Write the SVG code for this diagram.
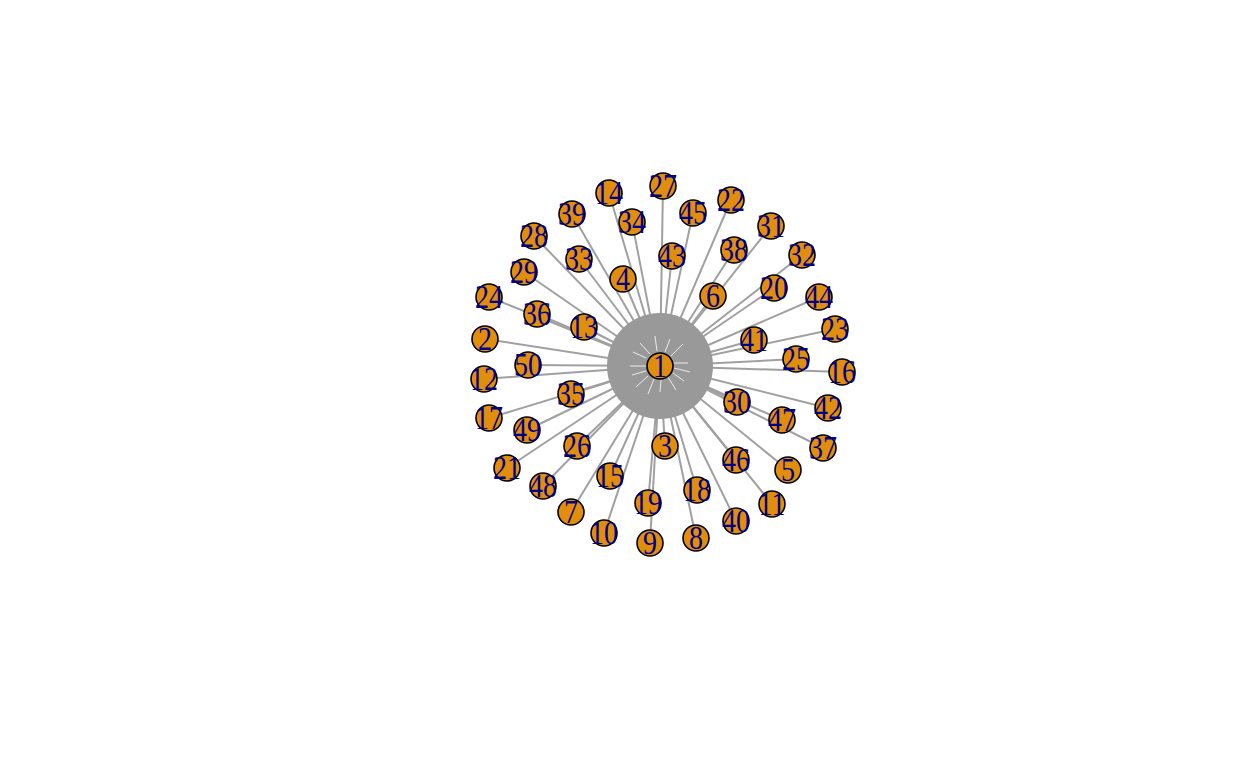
<svg xmlns="http://www.w3.org/2000/svg" width="1248" height="768" viewBox="0 0 1248 768">
<style>
.e{stroke:#a0a0a0;stroke-width:2;fill:none}
.w{stroke:#ffffff;stroke-width:0.8;fill:none}
.n circle{fill:#E08E0B;stroke:#000;stroke-width:1.6}
.n text{font-family:"Liberation Serif","Times New Roman",serif;font-size:28px;fill:#00008B;text-anchor:middle;transform:scale(1,1.2)}
</style>
<rect width="1248" height="768" fill="#fff"/>
<g id="edges">
<line class="e" x1="660" y1="366" x2="663" y2="186"/>
<line class="e" x1="660" y1="366" x2="609" y2="193"/>
<line class="e" x1="660" y1="366" x2="731" y2="200"/>
<line class="e" x1="660" y1="366" x2="693" y2="213"/>
<line class="e" x1="660" y1="366" x2="572" y2="214"/>
<line class="e" x1="660" y1="366" x2="632" y2="222"/>
<line class="e" x1="660" y1="366" x2="771" y2="226"/>
<line class="e" x1="660" y1="366" x2="534" y2="236"/>
<line class="e" x1="660" y1="366" x2="734" y2="250"/>
<line class="e" x1="660" y1="366" x2="672" y2="256"/>
<line class="e" x1="660" y1="366" x2="579" y2="259"/>
<line class="e" x1="660" y1="366" x2="802" y2="255"/>
<line class="e" x1="660" y1="366" x2="524" y2="272"/>
<line class="e" x1="660" y1="366" x2="623" y2="279"/>
<line class="e" x1="660" y1="366" x2="774" y2="288"/>
<line class="e" x1="660" y1="366" x2="713" y2="296"/>
<line class="e" x1="660" y1="366" x2="819" y2="297"/>
<line class="e" x1="660" y1="366" x2="489" y2="297"/>
<line class="e" x1="660" y1="366" x2="537" y2="314"/>
<line class="e" x1="660" y1="366" x2="584" y2="327"/>
<line class="e" x1="660" y1="366" x2="835" y2="329"/>
<line class="e" x1="660" y1="366" x2="754" y2="340"/>
<line class="e" x1="660" y1="366" x2="485" y2="339"/>
<line class="e" x1="660" y1="366" x2="528" y2="365"/>
<line class="e" x1="660" y1="366" x2="796" y2="359"/>
<line class="e" x1="660" y1="366" x2="842" y2="372"/>
<line class="e" x1="660" y1="366" x2="484" y2="379"/>
<line class="e" x1="660" y1="366" x2="571" y2="394"/>
<line class="e" x1="660" y1="366" x2="737" y2="402"/>
<line class="e" x1="660" y1="366" x2="828" y2="408"/>
<line class="e" x1="660" y1="366" x2="782" y2="420"/>
<line class="e" x1="660" y1="366" x2="489" y2="418"/>
<line class="e" x1="660" y1="366" x2="527" y2="430"/>
<line class="e" x1="660" y1="366" x2="823" y2="448"/>
<line class="e" x1="660" y1="366" x2="577" y2="446"/>
<line class="e" x1="660" y1="366" x2="665" y2="446"/>
<line class="e" x1="660" y1="366" x2="736" y2="460"/>
<line class="e" x1="660" y1="366" x2="507" y2="468"/>
<line class="e" x1="660" y1="366" x2="788" y2="470"/>
<line class="e" x1="660" y1="366" x2="610" y2="476"/>
<line class="e" x1="660" y1="366" x2="543" y2="486"/>
<line class="e" x1="660" y1="366" x2="697" y2="490"/>
<line class="e" x1="660" y1="366" x2="648" y2="503"/>
<line class="e" x1="660" y1="366" x2="772" y2="504"/>
<line class="e" x1="660" y1="366" x2="571" y2="512"/>
<line class="e" x1="660" y1="366" x2="736" y2="521"/>
<line class="e" x1="660" y1="366" x2="604" y2="533"/>
<line class="e" x1="660" y1="366" x2="696" y2="538"/>
<line class="e" x1="660" y1="366" x2="650" y2="543"/>
<circle cx="660" cy="366" r="53" fill="#999999"/>
<line class="w" x1="657" y1="351" x2="655" y2="336"/>
<line class="w" x1="665" y1="352" x2="670" y2="339"/>
<line class="w" x1="671" y1="356" x2="683" y2="344"/>
<line class="w" x1="646" y1="358" x2="633" y2="352"/>
<line class="w" x1="646" y1="366" x2="630" y2="366"/>
<line class="w" x1="646" y1="371" x2="632" y2="375"/>
<line class="w" x1="648" y1="376" x2="636" y2="387"/>
<line class="w" x1="654" y1="379" x2="648" y2="394"/>
<line class="w" x1="661" y1="380" x2="660" y2="392"/>
<line class="w" x1="668" y1="377" x2="676" y2="390"/>
<line class="w" x1="673" y1="373" x2="684" y2="381"/>
<line class="w" x1="674" y1="368" x2="690" y2="372"/>
<line class="w" x1="674" y1="363" x2="688" y2="363"/>
<line class="w" x1="650" y1="354" x2="640" y2="343"/>
</g>
<g id="n1" class="n" transform="translate(660,366)"><circle r="13"/><text y="9">1</text></g>
<g id="n27" class="n" transform="translate(663,186)"><circle r="13"/><text y="9">27</text></g>
<g id="n14" class="n" transform="translate(609,193)"><circle r="13"/><text y="9">14</text></g>
<g id="n22" class="n" transform="translate(731,200)"><circle r="13"/><text y="9">22</text></g>
<g id="n45" class="n" transform="translate(693,213)"><circle r="13"/><text y="9">45</text></g>
<g id="n39" class="n" transform="translate(572,214)"><circle r="13"/><text y="9">39</text></g>
<g id="n34" class="n" transform="translate(632,222)"><circle r="13"/><text y="9">34</text></g>
<g id="n31" class="n" transform="translate(771,226)"><circle r="13"/><text y="9">31</text></g>
<g id="n28" class="n" transform="translate(534,236)"><circle r="13"/><text y="9">28</text></g>
<g id="n38" class="n" transform="translate(734,250)"><circle r="13"/><text y="9">38</text></g>
<g id="n43" class="n" transform="translate(672,256)"><circle r="13"/><text y="9">43</text></g>
<g id="n33" class="n" transform="translate(579,259)"><circle r="13"/><text y="9">33</text></g>
<g id="n32" class="n" transform="translate(802,255)"><circle r="13"/><text y="9">32</text></g>
<g id="n29" class="n" transform="translate(524,272)"><circle r="13"/><text y="9">29</text></g>
<g id="n4" class="n" transform="translate(623,279)"><circle r="13"/><text y="9">4</text></g>
<g id="n20" class="n" transform="translate(774,288)"><circle r="13"/><text y="9">20</text></g>
<g id="n6" class="n" transform="translate(713,296)"><circle r="13"/><text y="9">6</text></g>
<g id="n44" class="n" transform="translate(819,297)"><circle r="13"/><text y="9">44</text></g>
<g id="n24" class="n" transform="translate(489,297)"><circle r="13"/><text y="9">24</text></g>
<g id="n36" class="n" transform="translate(537,314)"><circle r="13"/><text y="9">36</text></g>
<g id="n13" class="n" transform="translate(584,327)"><circle r="13"/><text y="9">13</text></g>
<g id="n23" class="n" transform="translate(835,329)"><circle r="13"/><text y="9">23</text></g>
<g id="n41" class="n" transform="translate(754,340)"><circle r="13"/><text y="9">41</text></g>
<g id="n2" class="n" transform="translate(485,339)"><circle r="13"/><text y="9">2</text></g>
<g id="n50" class="n" transform="translate(528,365)"><circle r="13"/><text y="9">50</text></g>
<g id="n25" class="n" transform="translate(796,359)"><circle r="13"/><text y="9">25</text></g>
<g id="n16" class="n" transform="translate(842,372)"><circle r="13"/><text y="9">16</text></g>
<g id="n12" class="n" transform="translate(484,379)"><circle r="13"/><text y="9">12</text></g>
<g id="n35" class="n" transform="translate(571,394)"><circle r="13"/><text y="9">35</text></g>
<g id="n30" class="n" transform="translate(737,402)"><circle r="13"/><text y="9">30</text></g>
<g id="n42" class="n" transform="translate(828,408)"><circle r="13"/><text y="9">42</text></g>
<g id="n47" class="n" transform="translate(782,420)"><circle r="13"/><text y="9">47</text></g>
<g id="n17" class="n" transform="translate(489,418)"><circle r="13"/><text y="9">17</text></g>
<g id="n49" class="n" transform="translate(527,430)"><circle r="13"/><text y="9">49</text></g>
<g id="n37" class="n" transform="translate(823,448)"><circle r="13"/><text y="9">37</text></g>
<g id="n26" class="n" transform="translate(577,446)"><circle r="13"/><text y="9">26</text></g>
<g id="n3" class="n" transform="translate(665,446)"><circle r="13"/><text y="9">3</text></g>
<g id="n46" class="n" transform="translate(736,460)"><circle r="13"/><text y="9">46</text></g>
<g id="n21" class="n" transform="translate(507,468)"><circle r="13"/><text y="9">21</text></g>
<g id="n5" class="n" transform="translate(788,470)"><circle r="13"/><text y="9">5</text></g>
<g id="n15" class="n" transform="translate(610,476)"><circle r="13"/><text y="9">15</text></g>
<g id="n48" class="n" transform="translate(543,486)"><circle r="13"/><text y="9">48</text></g>
<g id="n18" class="n" transform="translate(697,490)"><circle r="13"/><text y="9">18</text></g>
<g id="n19" class="n" transform="translate(648,503)"><circle r="13"/><text y="9">19</text></g>
<g id="n11" class="n" transform="translate(772,504)"><circle r="13"/><text y="9">11</text></g>
<g id="n7" class="n" transform="translate(571,512)"><circle r="13"/><text y="9">7</text></g>
<g id="n40" class="n" transform="translate(736,521)"><circle r="13"/><text y="9">40</text></g>
<g id="n10" class="n" transform="translate(604,533)"><circle r="13"/><text y="9">10</text></g>
<g id="n8" class="n" transform="translate(696,538)"><circle r="13"/><text y="9">8</text></g>
<g id="n9" class="n" transform="translate(650,543)"><circle r="13"/><text y="9">9</text></g>
</svg>
